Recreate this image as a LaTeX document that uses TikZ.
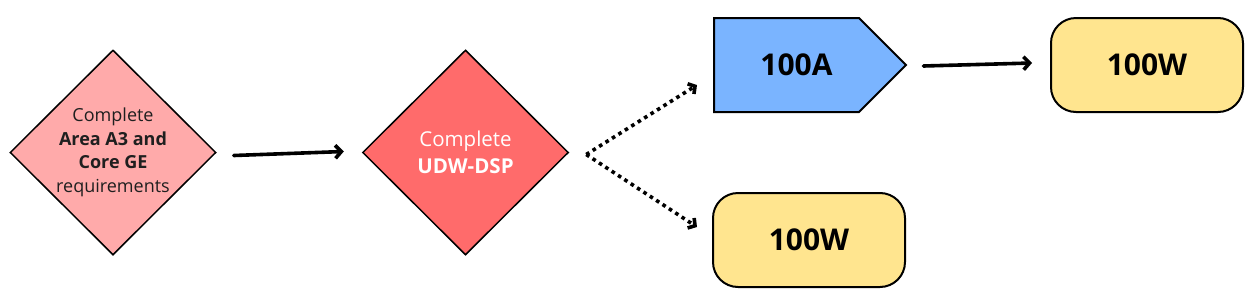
\documentclass[tikz,border=0pt]{standalone}
\usepackage{fontspec}
\setmainfont{Open Sans}
\usetikzlibrary{shapes.geometric,shapes.symbols,arrows.meta,calc}
\definecolor{pinkA}{HTML}{FFAAAA}
\definecolor{redB}{HTML}{FF6B6B}
\definecolor{blueC}{HTML}{7AB4FF}
\definecolor{yellowD}{HTML}{FFE58F}
\tikzset{
  diam/.style={shape=diamond, draw=black, line width=1.5pt, minimum width=206pt, minimum height=205pt, inner sep=-40pt, align=center},
  sig/.style={shape=signal, signal to=east, signal pointer angle=90, draw=black, line width=2pt, fill=blueC, minimum width=192pt, minimum height=94pt, inner sep=0pt, font=\fontsize{30}{32}\selectfont\bfseries},
  rbox/.style={draw=black, line width=2pt, fill=yellowD, rounded corners=25pt, minimum width=192pt, minimum height=94pt, inner sep=0pt, font=\fontsize{30}{32}\selectfont\bfseries},
  conn/.style={line width=3.6pt, line cap=round, -{Straight Barb[length=6pt,width=13pt]}},
  dconn/.style={line width=3.6pt, dash pattern=on 3.6pt off 4pt, -{Straight Barb[length=5pt,width=12pt]}}
}
\begin{document}
\begin{tikzpicture}[x=1pt,y=-1pt]
\useasboundingbox (0,0) rectangle (1251,303);
\node[diam, fill=pinkA, text=black!88, font=\fontsize{18}{23.5}\selectfont] (d1) at (113,152.5) {Complete\\\textbf{Area A3 and}\\\textbf{Core GE}\\requirements};
\node[diam, fill=redB, text=white, font=\fontsize{20.5}{27}\selectfont] (d2) at (465.5,152.5) {Complete\\\textbf{UDW-DSP}};
\node[sig, anchor=west] (a) at (713,65) {\hspace*{20pt}100A};
\node[rbox] (w1) at (1147,65) {100W};
\node[rbox] (w2) at (809,240) {100W};
\draw[conn] ($(d1.east)+(17,3)$) -- ($(d2.west)+(-18,-1)$);
\draw[dconn] ($(d2.east)+(17,2)$) -- ($(a.west)+(-16,20)$);
\draw[dconn] ($(d2.east)+(17,2)$) -- ($(w2.west)+(-15,-13)$);
\draw[conn] ($(a.east)+(16,1)$) -- ($(w1.west)+(-18,-2)$);
\end{tikzpicture}
\end{document}
